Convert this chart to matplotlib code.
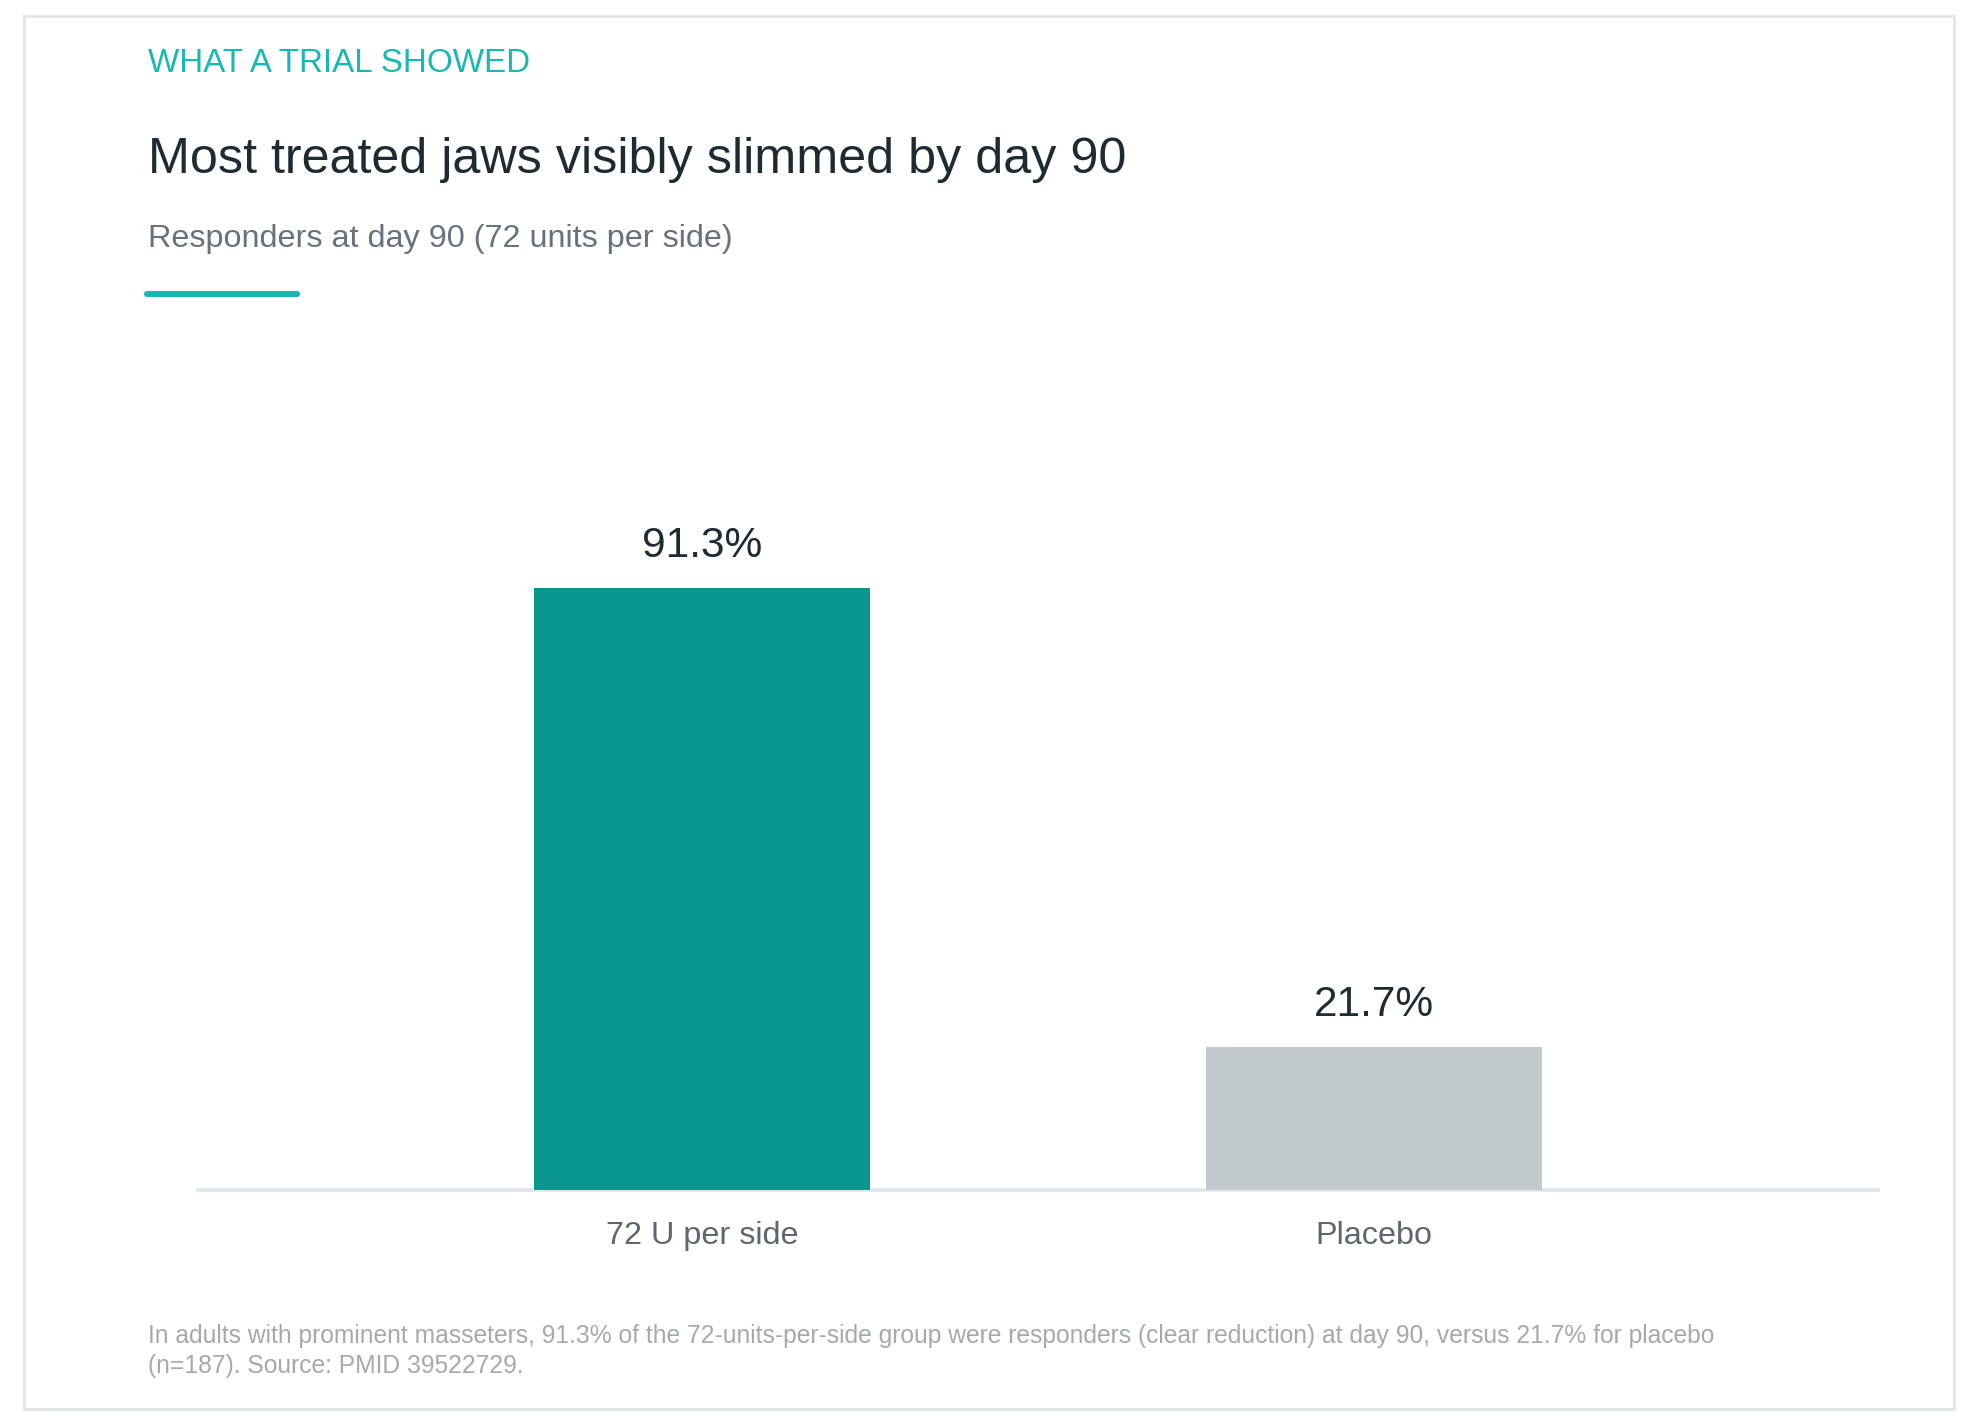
import matplotlib
matplotlib.use("Agg")
import matplotlib.pyplot as plt
from matplotlib.patches import Rectangle
from matplotlib.lines import Line2D

plt.rcParams['font.family'] = ['Liberation Sans', 'DejaVu Sans']

# data
groups = ['72 U per side', 'Placebo']
responders = [91.3, 21.7]
bar_colors = ['#08968e', '#c2cacd']

kicker = 'WHAT A TRIAL SHOWED'
title = 'Most treated jaws visibly slimmed by day 90'
subtitle = 'Responders at day 90 (72 units per side)'
note_lines = [
    'In adults with prominent masseters, 91.3% of the 72-units-per-side group were responders (clear reduction) at day 90, versus 21.7% for placebo',
    '(n=187). Source: PMID 39522729.',
]

W, H = 1978, 1426
fig = plt.figure(figsize=(W / 100, H / 100), dpi=100)
fig.patch.set_facecolor('white')


def fx(x):
    return x / W


def fy(y):
    return 1 - y / H


# card border
fig.patches.append(Rectangle((fx(24), fy(1409)), fx(1954) - fx(24), fy(16) - fy(1409),
                             transform=fig.transFigure, fill=False,
                             edgecolor='#e3e7ea', linewidth=2.2))

# header texts
fig.text(fx(148), fy(72), kicker, fontsize=23.9, color='#17b9b0', va='baseline')
fig.text(fx(148), fy(173), title, fontsize=36.2, color='#1f2b33', va='baseline')
fig.text(fx(148), fy(247), subtitle, fontsize=23.35, color='#68727c', va='baseline')
fig.lines.append(Line2D([fx(147), fx(297)], [fy(294), fy(294)], transform=fig.transFigure,
                        color='#14b8b0', linewidth=4.4, solid_capstyle='round'))

# bar chart
ax = fig.add_axes([fx(198), fy(1190), fx(1878) - fx(198), fy(531) - fy(1190)])
x = list(range(len(groups)))
bars = ax.bar(x, responders, width=0.5, color=bar_colors, zorder=3)
ax.set_xlim(-0.75, 1.75)
ax.set_ylim(0, 100)

for b, v in zip(bars, responders):
    ax.annotate(f'{v}%', (b.get_x() + b.get_width() / 2, v), xytext=(0, 22.5),
                textcoords='offset points', ha='center', va='baseline',
                fontsize=30.5, color='#1f2b33')

ax.set_xticks(x, groups)
ax.tick_params(axis='x', length=0, pad=22.5, labelsize=23.3, labelcolor='#5e6670')
ax.set_yticks([])
for s in ['top', 'right', 'left']:
    ax.spines[s].set_visible(False)
ax.spines['bottom'].set_color('#e2e6e9')
ax.spines['bottom'].set_linewidth(2.6)
ax.set_facecolor('none')

# footnote
fig.text(fx(148), fy(1343), note_lines[0], fontsize=17.75, color='#a3a9ae', va='baseline')
fig.text(fx(148), fy(1373), note_lines[1], fontsize=17.75, color='#a3a9ae', va='baseline')

fig.savefig('out.png', dpi=100)
